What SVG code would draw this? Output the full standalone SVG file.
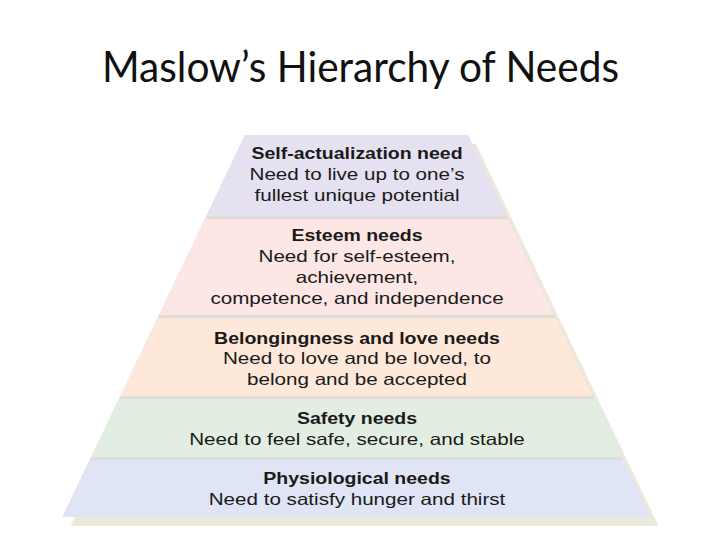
<svg xmlns="http://www.w3.org/2000/svg" width="720" height="540" viewBox="0 0 720 540">
<style>
.h{font-family:"Liberation Sans",Arial,sans-serif;font-weight:bold;font-size:15.6px;fill:#1a1a1a;text-anchor:middle}
.b{font-family:"Liberation Sans",Arial,sans-serif;font-size:16.5px;fill:#1a1a1a;text-anchor:middle}
.title{font-family:Lato,"Open Sans","Liberation Sans",sans-serif;font-size:42px;fill:#111}
</style>
<rect width="720" height="540" fill="#ffffff"/>
<text class="title" x="102" y="82" textLength="517" lengthAdjust="spacingAndGlyphs">Maslow’s Hierarchy of Needs</text>
<g id="pyramid-shadow">
<polygon points="253,144 476,144 658.5,526 70.5,526" fill="#ebe8dc"/>
<polygon points="245,135 468,135 650.5,517 62.5,517" fill="#e0dcd6"/>
</g>
<g id="self-actualization">
<polygon points="245,135 468,135 506.7,216 206.3,216" fill="#e6e1f0"/>
<g transform="translate(357 0) scale(1.25 1)">
<text class="h" x="0" y="159">Self-actualization need</text>
<text class="b" x="0" y="180">Need to live up to one’s</text>
<text class="b" x="0" y="201">fullest unique potential</text>
</g>
</g>
<g id="esteem">
<polygon points="204.9,219 508.1,219 554,315 159,315" fill="#fce7e4"/>
<g transform="translate(357 0) scale(1.25 1)">
<text class="h" x="0" y="241">Esteem needs</text>
<text class="b" x="0" y="262">Need for self-esteem,</text>
<text class="b" x="0" y="283">achievement,</text>
<text class="b" x="0" y="304">competence, and independence</text>
</g>
</g>
<g id="belongingness">
<polygon points="157.6,318 555.4,318 592.7,396 120.3,396" fill="#fde8d9"/>
<g transform="translate(357 0) scale(1.25 1)">
<text class="h" x="0" y="344">Belongingness and love needs</text>
<text class="b" x="0" y="364">Need to love and be loved, to</text>
<text class="b" x="0" y="385">belong and be accepted</text>
</g>
</g>
<g id="safety">
<polygon points="118.9,399 594.1,399 621.8,457 91.2,457" fill="#e1eee1"/>
<g transform="translate(357 0) scale(1.25 1)">
<text class="h" x="0" y="424">Safety needs</text>
<text class="b" x="0" y="445">Need to feel safe, secure, and stable</text>
</g>
</g>
<g id="physiological">
<polygon points="89.7,460 623.3,460 650.5,517 62.5,517" fill="#dfe5f5"/>
<g transform="translate(357 0) scale(1.25 1)">
<text class="h" x="0" y="484">Physiological needs</text>
<text class="b" x="0" y="505">Need to satisfy hunger and thirst</text>
</g>
</g>
<g id="connectors"/>
</svg>
